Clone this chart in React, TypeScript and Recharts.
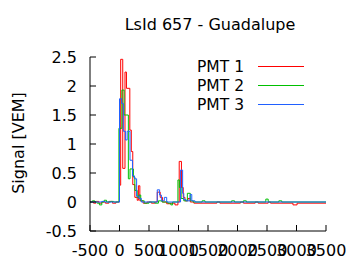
import React from 'react';
import { LineChart, Line, XAxis, YAxis } from 'recharts';

const TITLE = 'LsId 657 - Guadalupe';
const Y_LABEL = 'Signal [VEM]';
const X_TICKS = [-500, 0, 500, 1000, 1500, 2000, 2500, 3000, 3500];
const Y_TICKS = [-0.5, 0, 0.5, 1, 1.5, 2, 2.5];

const RED_T = [-500, -440, -400, -350, -300, -240, -180, -120, -60, 0, 20, 55, 93, 118, 175, 200, 225, 260, 300, 320, 345, 400, 470, 540, 600, 640, 690, 730, 800, 870, 940, 990, 1012, 1050, 1080, 1110, 1160, 1200, 1260, 1650, 1700, 2050, 2100, 2300, 2350, 2520, 2560, 2940, 3010, 3500];
const RED_V = [0, -0.02, 0.01, -0.02, 0, -0.02, 0.01, -0.02, 0, 0.29, 2.46, 0.58, 2.24, 1.96, 1.24, 0.87, 0.3, 0.08, 0.03, 0.28, 0.02, -0.02, 0, -0.02, 0, 0.17, 0.08, 0, -0.03, -0.02, -0.05, 0, 0.7, 0.25, 0.08, 0.02, 0.06, 0, -0.02, 0, -0.02, 0, -0.02, 0, -0.02, 0, -0.02, -0.05, -0.02, -0.02];

const GREEN_T = [-500, -460, -420, -380, -340, -300, -260, -220, -150, -100, -10, 40, 78, 150, 178, 235, 260, 300, 330, 360, 420, 500, 600, 660, 720, 820, 870, 900, 990, 1015, 1045, 1090, 1150, 1200, 1250, 1400, 1450, 1900, 1950, 2100, 2150, 2480, 2520, 2700, 2750, 3500];
const GREEN_V = [0, 0.02, 0, -0.02, -0.05, 0, 0.03, 0, 0.01, 0, 1.27, 1.93, 1.5, 0.4, 0.57, 0.43, 0.2, 0.08, 0.12, 0.02, -0.02, 0, -0.02, 0.02, 0, -0.02, -0.05, 0, 0.38, 0.25, 0.06, 0.02, 0.15, 0.02, 0, 0.02, 0, 0.02, 0, 0.02, 0, 0.05, 0, 0.02, 0, 0];

const BLUE_T = [-500, -300, -250, 0, 37, 65, 100, 130, 178, 220, 255, 290, 330, 370, 640, 680, 710, 760, 800, 1035, 1070, 1090, 1130, 1195, 1225, 1280, 3500];
const BLUE_V = [0, 0.01, 0, 1.78, 1.7, 1.22, 1.07, 1.22, 0.72, 0.45, 0.4, 0.1, 0.06, 0, 0.21, 0.12, 0.02, 0.08, 0, 0.55, 0.15, 0.04, 0.02, 0.13, 0.02, 0, 0];

const SERIES = [
  { name: 'PMT 1', color: '#ff0000', t: RED_T, v: RED_V },
  { name: 'PMT 2', color: '#00c000', t: GREEN_T, v: GREEN_V },
  { name: 'PMT 3', color: '#2060ff', t: BLUE_T, v: BLUE_V },
];

const FONT = 'DejaVu Sans';
const FS = 16;
const LFS = 15.5;
const TICK_LEN = 6;

const LeftTick = (p: any) => {
  const { x, y, payload } = p;
  return (
    <g>
      <line x1={x} y1={y} x2={x + TICK_LEN} y2={y} stroke="#000" />
      <text x={x - 13} y={y + 6} textAnchor="end" fontFamily={FONT} fontSize={FS} fill="#000">{payload.value}</text>
    </g>
  );
};
const RightTick = (p: any) => {
  const { x, y } = p;
  return <line x1={x - TICK_LEN} y1={y} x2={x} y2={y} stroke="#000" />;
};
const BottomTick = (p: any) => {
  const { x, y, payload } = p;
  return (
    <g>
      <line x1={x} y1={y} x2={x} y2={y - TICK_LEN} stroke="#000" />
      <text x={x} y={y + 25} textAnchor="middle" fontFamily={FONT} fontSize={FS} fill="#000">{payload.value}</text>
    </g>
  );
};
const TopTick = (p: any) => {
  const { x, y } = p;
  return <line x1={x} y1={y} x2={x} y2={y + TICK_LEN} stroke="#000" />;
};

const LegendBox = () => (
  <div style={{ position: 'absolute', left: 150, top: 57, width: 160, fontFamily: FONT, fontSize: LFS, color: '#000' }}>
    {SERIES.map((s) => (
      <div key={s.name} style={{ display: 'flex', alignItems: 'center', height: 19 }}>
        <span style={{ width: 94, textAlign: 'right' }}>{s.name}</span>
        <span style={{ marginLeft: 14, width: 46, height: 0, borderTop: `1px solid ${s.color}` }} />
      </div>
    ))}
  </div>
);

export default function App() {
  return (
    <div style={{ position: 'absolute', left: 0, top: 0, width: 360, height: 270, background: '#fff' }}>
      <div style={{ position: 'absolute', left: 92, width: 236, top: 15, textAlign: 'center', fontFamily: FONT, fontSize: FS, color: '#000' }}>{TITLE}</div>
      <div style={{ position: 'absolute', left: 18, top: 143, width: 0, height: 0 }}>
        <div style={{ position: 'absolute', transform: 'translate(-50%,-50%) rotate(-90deg)', whiteSpace: 'nowrap', fontFamily: FONT, fontSize: FS, color: '#000' }}>{Y_LABEL}</div>
      </div>
      <LineChart width={360} height={270} margin={{ top: 57, right: 34, bottom: 9, left: 30 }}>
        <XAxis xAxisId="b" type="number" dataKey="t" domain={[-500, 3500]} ticks={X_TICKS} allowDataOverflow height={30} tickSize={0} tickMargin={0} tickLine={false} axisLine={{ stroke: '#000' }} tick={<BottomTick />} interval={0} />
        <XAxis xAxisId="top" orientation="top" type="number" dataKey="t" domain={[-500, 3500]} ticks={X_TICKS} allowDataOverflow height={0} tickSize={0} tickMargin={0} tickLine={false} axisLine={{ stroke: '#000' }} tick={<TopTick />} interval={0} />
        <YAxis yAxisId="l" type="number" domain={[-0.5, 2.5]} ticks={Y_TICKS} allowDataOverflow width={60} tickSize={0} tickMargin={0} tickLine={false} axisLine={{ stroke: '#000' }} tick={<LeftTick />} interval={0} />
        <YAxis yAxisId="r" orientation="right" type="number" domain={[-0.5, 2.5]} ticks={Y_TICKS} allowDataOverflow width={0} tickSize={0} tickMargin={0} tickLine={false} axisLine={{ stroke: '#000' }} tick={<RightTick />} interval={0} />
        {SERIES.map((s) => (
          <Line
            key={s.name}
            xAxisId="b"
            yAxisId="l"
            data={s.t.map((t, i) => ({ t, v: s.v[i] }))}
            dataKey="v"
            name={s.name}
            type="stepAfter"
            stroke={s.color}
            strokeWidth={1}
            dot={false}
            isAnimationActive={false}
          />
        ))}
      </LineChart>
      <LegendBox />
    </div>
  );
}
